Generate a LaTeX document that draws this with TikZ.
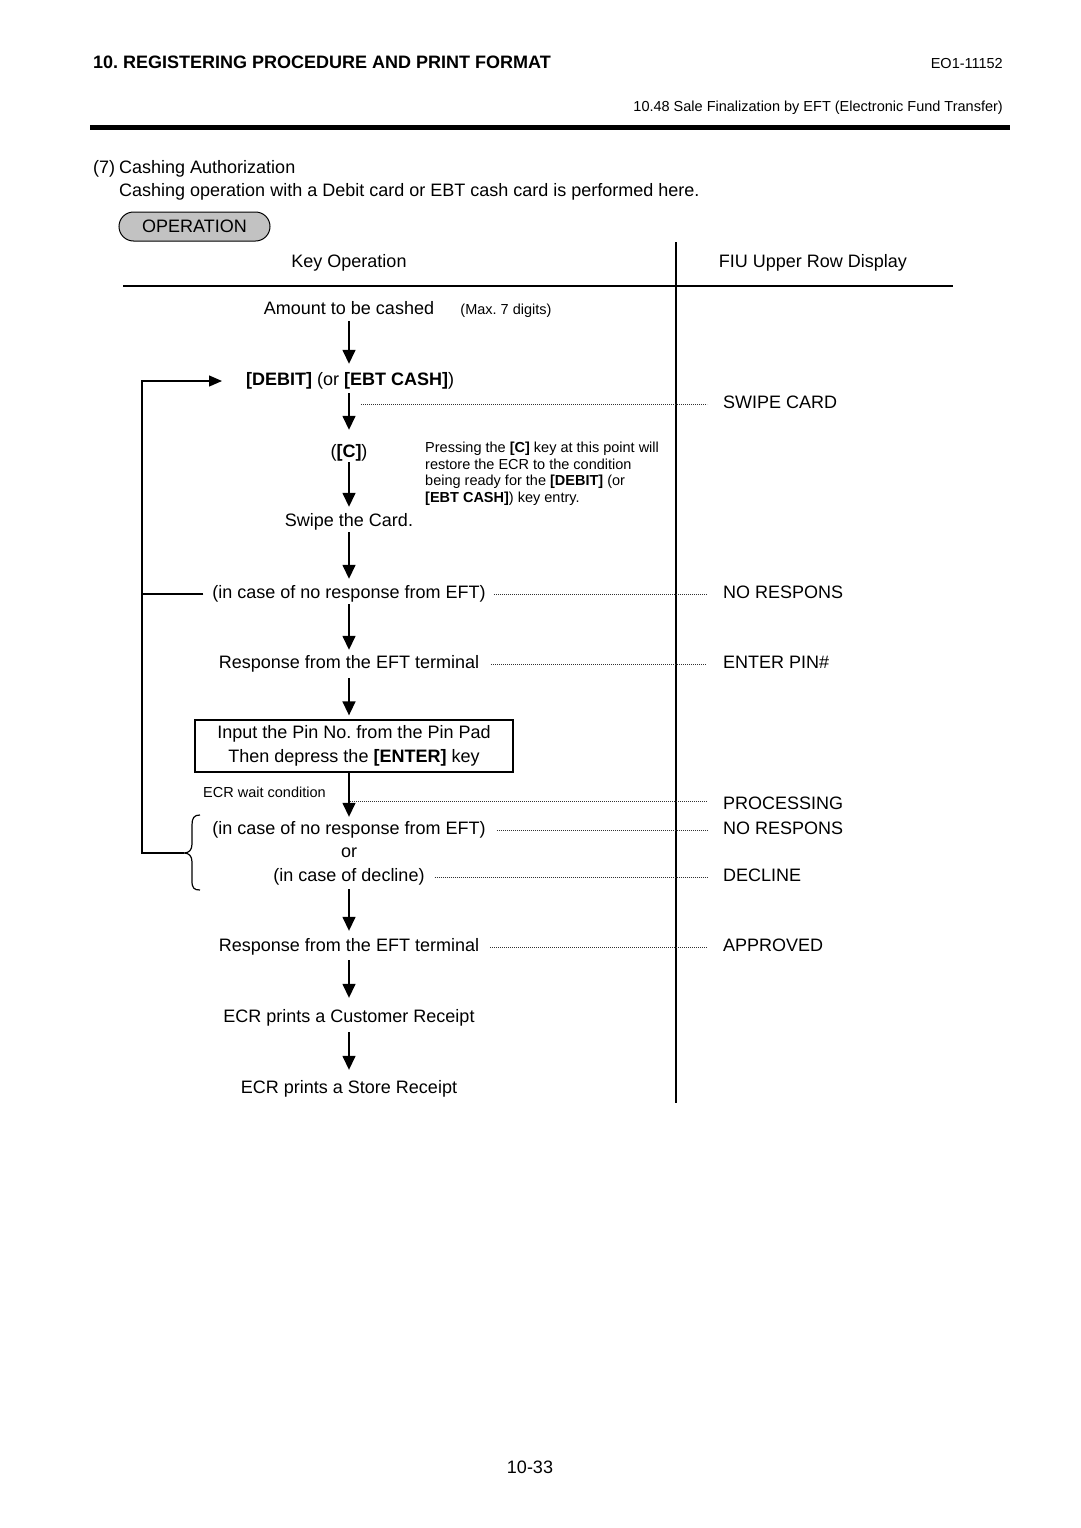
\documentclass[tikz,border=0pt]{standalone}
\usepackage{fontspec}
\setmainfont{Liberation Sans}
\usetikzlibrary{arrows.meta}
\frenchspacing
\begin{document}
\begin{tikzpicture}[x=1pt,y=-1pt,
  txt/.style={inner sep=0pt, text height=13pt, text depth=4pt, font=\fontsize{18}{21.6}\selectfont},
  sm/.style={inner sep=0pt, text height=10.5pt, text depth=3.3pt, font=\fontsize{14.5}{16.5}\selectfont},
  smplain/.style={inner sep=0pt, font=\fontsize{14.5}{16.5}\selectfont},
  fiu/.style={txt, anchor=west},
  arr/.style={line width=1.5pt, -{Triangle[length=14pt,width=13pt]}},
  ln/.style={line width=1.3pt},
  dots/.style={line width=0.8pt, dash pattern=on 0.8pt off 1.2pt, black!80},
  pill/.style={draw, line width=1pt, fill=black!24, rounded corners=14.5pt, minimum width=151pt, minimum height=29pt, inner sep=0pt, font=\fontsize{18}{21.6}\selectfont}
]
\useasboundingbox (0,0) rectangle (1080,1528);

% header
\node[txt, anchor=west] (title) at (93,64) {\bfseries 10. REGISTERING PROCEDURE AND PRINT FORMAT};
\node[sm, anchor=east] (docno) at (1003,65) {EO1-11152};
\node[sm, anchor=east] (section) at (1003,108) {10.48 Sale Finalization by EFT (Electronic Fund Transfer)};
\draw[line width=4.5pt] (90,127.5) -- (1010,127.5);

% intro
\node[txt, anchor=west] (num) at (93,169) {(7)};
\node[txt, anchor=west] (head) at (119,169) {Cashing Authorization};
\node[txt, anchor=west] (intro) at (119,192) {Cashing operation with a Debit card or EBT cash card is performed here.};
\node[pill] (op) at (194.5,226.5) {OPERATION};

% table
\node[txt] (kohead) at (349,263) {Key Operation};
\node[txt] (fiuhead) at (813,263) {FIU Upper Row Display};
\draw[ln] (676,242) -- (676,1103);
\draw[ln] (123,286) -- (953,286);

% flow nodes
\node[txt] (amount) at (349,310) {Amount to be cashed};
\node[sm] (max) at (506,311) {(Max. 7 digits)};
\node[txt, anchor=west] (debit) at (246,381) {\textbf{[DEBIT]} (or \textbf{[EBT CASH]})};
\node[txt] (C) at (349,453) {(\textbf{[C]})};
\node[smplain, anchor=north west, align=left] (note) at (425,442) {Pressing the \textbf{[C]} key at this point will\\restore the ECR to the condition\\being ready for the \textbf{[DEBIT]} (or\\\textbf{[EBT CASH]}) key entry.};
\node[txt] (swipe) at (349,522) {Swipe the Card.};
\node[txt] (nores1) at (349,594) {(in case of no response from EFT)};
\node[txt] (resp1) at (349,664) {Response from the EFT terminal};
\node[draw, line width=1.3pt, minimum width=318pt, minimum height=52pt, inner sep=0pt, align=center, font=\fontsize{18}{24}\selectfont] (box) at (354,746) {Input the Pin No. from the Pin Pad\\Then depress the \textbf{[ENTER]} key};
\node[sm, anchor=west] (wait) at (203,794) {ECR wait condition};
\node[txt] (nores2) at (349,830) {(in case of no response from EFT)};
\node[txt] (or) at (349,853) {or};
\node[txt] (decline) at (349,877) {(in case of decline)};
\node[txt] (resp2) at (349,947) {Response from the EFT terminal};
\node[txt] (cust) at (349,1018) {ECR prints a Customer Receipt};
\node[txt] (store) at (349,1089) {ECR prints a Store Receipt};

% FIU display texts
\node[fiu] (swipecard) at (723,404) {SWIPE CARD};
\node[fiu] (nr1) at (723,594) {NO RESPONS};
\node[fiu] (pin) at (723,664) {ENTER PIN\#};
\node[fiu] (proc) at (723,805) {PROCESSING};
\node[fiu] (nr2) at (723,830) {NO RESPONS};
\node[fiu] (decl) at (723,877) {DECLINE};
\node[fiu] (appr) at (723,947) {APPROVED};

% arrows
\draw[arr, shorten <=2.5pt, shorten >=8.5pt] (amount.south) -- (amount.south |- debit.north);
\draw[arr, shorten <=3.5pt, shorten >=14.5pt] (C.north |- debit.south) -- (C.north);
\draw[arr, shorten <=0.5pt, shorten >=6.5pt] (C.south) -- (swipe.north);
\draw[arr, shorten <=1.5pt, shorten >=6.5pt] (swipe.south) -- (nores1.north);
\draw[arr, shorten <=1.5pt, shorten >=5.5pt] (nores1.south) -- (resp1.north);
\draw[arr, shorten <=5.5pt, shorten >=4pt] (resp1.south) -- (resp1.south |- box.north);
\draw[arr, shorten >=4.5pt] (nores2.north |- box.south) -- (nores2.north);
\draw[arr, shorten <=3.5pt, shorten >=7.5pt] (decline.south) -- (resp2.north);
\draw[arr, shorten <=4.5pt, shorten >=11.5pt] (resp2.south) -- (cust.north);
\draw[arr, shorten <=5.5pt, shorten >=10.5pt] (cust.south) -- (store.north);

% dotted leaders
\coordinate (d1) at (361,404);
\coordinate (d2) at (350,801);
\draw[dots, shorten >=16pt] (d1) -- (d1 -| swipecard.west);
\draw[dots, shorten <=8pt, shorten >=16pt] (nores1.east) -- (nr1.west);
\draw[dots, shorten <=12pt, shorten >=16pt] (resp1.east) -- (pin.west);
\draw[dots, shorten >=16pt] (d2) -- (d2 -| proc.west);
\draw[dots, shorten <=11pt, shorten >=16pt] (nores2.east) -- (nr2.west);
\draw[dots, shorten <=10pt, shorten >=16pt] (decline.east) -- (decl.west);
\draw[dots, shorten <=11pt, shorten >=16pt] (resp2.east) -- (appr.west);

% loop back
\coordinate (lt) at (142,381);
\coordinate (lb) at (142,853);
\coordinate (lm) at (142,594);
\coordinate (bt) at (184,853);
\draw[ln, -{Triangle[length=13pt,width=11pt]}, shorten >=24pt] (bt) -- (lb) -- (lt) -- (debit.west);
\draw[ln, shorten <=9pt] (nores1.west) -- (lm);
\draw[line width=1.2pt] (200,815) .. controls (194,815) and (192,818) .. (192,825) -- (192,844) .. controls (192,850) and (189,853) .. (bt) .. controls (189,853) and (192,856) .. (192,862) -- (192,881) .. controls (192,888) and (194,890) .. (200,890);

% page number
\node[txt] (page) at (530,1469) {10-33};
\end{tikzpicture}
\end{document}
